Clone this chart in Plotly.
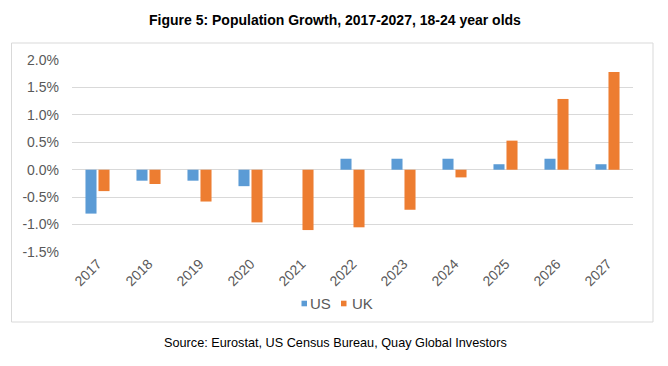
import plotly.graph_objects as go

years = ["2017", "2018", "2019", "2020", "2021", "2022", "2023", "2024", "2025", "2026", "2027"]
us = [-0.8, -0.2, -0.2, -0.3, 0.0, 0.2, 0.2, 0.2, 0.1, 0.2, 0.1]
uk = [-0.39, -0.26, -0.58, -0.96, -1.10, -1.05, -0.73, -0.14, 0.53, 1.29, 1.78]
y_ticks = [-1.5, -1.0, -0.5, 0.0, 0.5, 1.0, 1.5, 2.0]
y_tick_labels = ["-1.5%", "-1.0%", "-0.5%", "0.0%", "0.5%", "1.0%", "1.5%", "2.0%"]
series_names = ["US", "UK"]
series_colors = ["#5b9bd5", "#ed7d31"]

W, H = 668, 366
ml, mr, mt, mb = 72, 35, 60, 114

fig = go.Figure()
fig.add_trace(go.Bar(x=years, y=us, name=series_names[0], showlegend=False,
                     marker=dict(color=series_colors[0], line=dict(width=0))))
fig.add_trace(go.Bar(x=years, y=uk, name=series_names[1], showlegend=False,
                     marker=dict(color=series_colors[1], line=dict(width=0))))

pw = W - ml - mr
ph = H - mt - mb
def px_x(p):
    return (p - ml) / pw
def px_y(p):
    return (H - mb - p) / ph

# chart border
fig.add_shape(type="rect", xref="paper", yref="paper",
              x0=px_x(11.5), x1=px_x(653), y0=px_y(322), y1=px_y(43),
              line=dict(color="#d9d9d9", width=1), fillcolor="rgba(0,0,0,0)", layer="below")

# legend (manual, compact like Excel)
leg_y = 303.5
for name, color, sq_x, tx_x in [(series_names[0], series_colors[0], 301.5, 308),
                                (series_names[1], series_colors[1], 341, 350)]:
    fig.add_shape(type="rect", xref="paper", yref="paper",
                  x0=px_x(sq_x), x1=px_x(sq_x + 5.5), y0=px_y(leg_y + 2.8), y1=px_y(leg_y - 2.8),
                  line=dict(width=0), fillcolor=color)
    fig.add_annotation(text=name, xref="paper", yref="paper", x=px_x(tx_x), y=px_y(leg_y),
                       showarrow=False, xanchor="left", yanchor="middle",
                       font=dict(family="Liberation Sans, Arial", size=15, color="#595959"))

fig.add_annotation(text="<b>Figure 5: Population Growth, 2017-2027, 18-24 year olds</b>",
                   xref="paper", yref="paper", x=px_x(335), y=px_y(20),
                   showarrow=False, font=dict(family="Liberation Sans, Arial", size=14, color="#000000"),
                   xanchor="center", yanchor="middle")
fig.add_annotation(text="Source: Eurostat, US Census Bureau, Quay Global Investors",
                   xref="paper", yref="paper", x=px_x(335), y=px_y(343),
                   showarrow=False, font=dict(family="Liberation Sans, Arial", size=12.7, color="#000000"),
                   xanchor="center", yanchor="middle")

fig.update_layout(
    width=W, height=H,
    margin=dict(l=ml, r=mr, t=mt, b=mb, pad=0, autoexpand=False),
    paper_bgcolor="white", plot_bgcolor="white",
    barmode="group", bargap=0.49, bargroupgap=0.15,
    font=dict(family="Liberation Sans, Arial", size=14, color="#595959"),
    showlegend=False,
    xaxis=dict(tickangle=-45, showgrid=False, showline=False, ticks="",
               tickfont=dict(size=14, color="#595959"), automargin=False),
    yaxis=dict(range=[-1.5, 2.0], tickvals=y_ticks, ticktext=y_tick_labels,
               showgrid=True, gridcolor="#d9d9d9", gridwidth=1,
               zeroline=True, zerolinecolor="#d9d9d9", zerolinewidth=1,
               showline=False, ticks="", ticklabelstandoff=12, automargin=False,
               tickfont=dict(size=14, color="#595959")),
)

fig.write_html("out.html", config={"displayModeBar": False},
               post_script="document.body.style.margin='0px';document.body.style.padding='0px';")
